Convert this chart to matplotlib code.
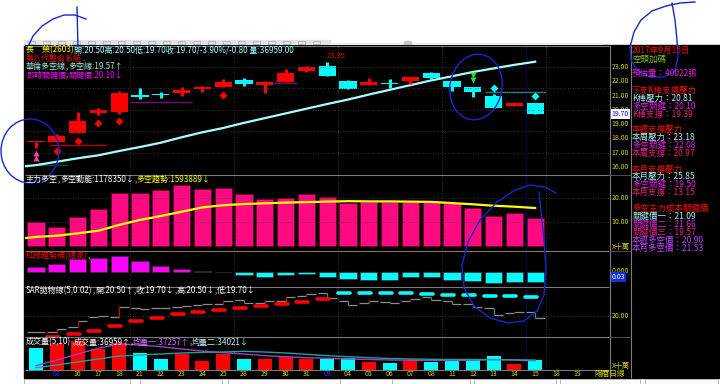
import numpy as np
import matplotlib
matplotlib.use('Agg')
import matplotlib.pyplot as plt
from matplotlib.patches import Rectangle, Ellipse

plt.rcParams['font.family'] = ['Noto Sans CJK TC', 'DejaVu Sans']

# ---------------- data ----------------
date_labels = ['', '08', '16', '17', '18', '21', '22', '23', '24', '25', '28', '29', '30',
               '31', '09', '04', '05', '06', '07', '08', '11', '12', '13', '14', '15', '18', '19']
month_idx = [1, 14]

opens  = [17.74, 17.75, 18.40, 19.76, 19.87, 21.06, 21.12, 21.16, 21.44, 21.62, 22.09, 21.72, 21.97,
          22.72, 23.07, 22.02, 21.76, 21.84, 22.00, 22.56, 22.02, 21.58, 20.99, 20.30, 20.50]
closes = [17.74, 18.19, 19.22, 19.99, 21.16, 20.92, 21.04, 21.37, 21.58, 21.97, 21.79, 21.97, 22.56,
          23.00, 22.39, 21.48, 21.97, 21.80, 22.30, 22.21, 21.62, 21.23, 20.15, 20.50, 19.70]
highs  = [17.76, 18.29, 19.87, 20.11, 21.32, 21.51, 21.27, 21.62, 21.67, 22.14, 22.21, 21.99, 22.86,
          23.09, 23.35, 22.09, 22.21, 22.16, 22.33, 22.67, 22.04, 21.60, 21.09, 20.56, 20.50]
lows   = [17.35, 17.72, 18.40, 19.64, 19.71, 20.76, 20.81, 20.99, 21.23, 21.62, 21.65, 21.20, 21.95,
          22.63, 22.39, 21.45, 21.76, 21.55, 21.83, 22.14, 21.32, 20.88, 20.10, 20.25, 19.70]

ma_x    = list(range(-1, 25))
ma_vals = [15.98, 16.13, 16.37, 16.61, 16.82, 17.12, 17.40, 17.70, 18.08, 18.43, 18.73, 19.09, 19.42,
           19.75, 20.08, 20.41, 20.72, 21.07, 21.40, 21.73, 22.06, 22.35, 22.65, 22.90, 23.15, 23.37]

red_dia_idx, red_dia_val = [1, 2, 3, 4, 9], [17.12, 17.84, 19.10, 19.22, 21.06]
cyan_dia_idx, cyan_dia_val = [22, 24], [21.55, 20.99]
buy_idx, buy_val = [0], [16.80]
sell_idx, sell_val = [21], [22.25]

level_start = [0.6, 4.55, 11.4, 21.6, -0.6]
level_end   = [3.4, 7.5, 12.55, 24.5, 1.55]
level_price = [17.54, 20.53, 21.88, 21.23, 16.14]
level_color = ['#b00000', '#800080', '#800080', '#208080', '#104848']

force = [10.25, 7.92, 12.33, 15.54, 22.33, 22.08, 23.46, 25.54, 23.75, 24.17, 21.79, 19.71, 20.0,
         21.92, 20.67, 18.17, 18.5, 18.5, 18.5, 18.5, 17.83, 15.75, 12.6, 13.7, 11.78]
force_trend = [3.0, 3.9, 4.4, 5.4, 6.5, 8.9, 11.0, 12.6, 14.4, 16.2, 17.1, 17.6, 17.9, 18.2, 18.4,
               18.6, 18.8, 18.7, 18.7, 18.6, 18.5, 18.0, 17.5, 16.9, 16.5, 15.94]

rg_trend = [5.6, 8.3, 13.0, 14.0, 16.3, 11.6, 6.6, 3.3, 1.0, 0.3, -3.0, -4.4, -3.0, -1.7, -4.4,
            -6.7, -7.2, -7.2, -5.0, -4.4, -7.2, -8.4, -11.0, -9.4, -9.4]

sar = [np.nan, 17.12, 17.49, 17.95, 18.63, 19.32, 19.73, 20.19, 20.47, 20.78, 21.10, 21.37, 21.60,
       21.92, 22.25, 23.15, 23.15, 23.15, 23.15, 22.93, 22.84, 22.84, 22.74, 22.74, 22.60]

vols = [80200, 96100, 107200, 77600, 98700, 61700, 39500, 58000, 34400, 60200, 39500, 41800, 46900,
        41800, 41800, 43200, 28500, 27000, 37000, 28500, 40700, 40700, 50600, 22200, 36959]
vol_ma5 = [15900, 37000, 59100, 80200, 96100, 92400, 86100, 77600, 70200, 63900, 59100, 52900, 49200,
           45500, 43200, 40700, 38800, 37000, 35900, 35100, 35100, 36200, 38800, 37700, 37257]
vol_ma10 = [8500, 18500, 29600, 40700, 51700, 55400, 59100, 62800, 65400, 66500, 69100, 66500, 62800,
            58000, 52900, 49200, 45500, 42500, 40700, 39500, 38800, 38800, 38100, 37000, 34021]

info_text = ['2017年9月15日', '空頭加碼', '預估量：40022張',
             '下支K棒支撐壓力', 'K棒壓力：20.81', '多空關鍵：20.10', 'K棒支撐：19.39',
             '本週支撐壓力', '本周壓力：23.18', '多空關鍵：22.08', '本周支撐：20.97',
             '本月支撐壓力', '本月壓力：25.85', '多空關鍵：19.50', '本月支撐：13.15',
             '多空主力成本關鍵價', '關鍵價一：21.09', '關鍵價二：21.66', '關鍵價三：19.57',
             '本週多空價：20.90', '本月多空價：21.53']

# ---------------- colours ----------------
RED, CYN, YEL = '#ff0000', '#00ffff', '#d4d400'
MAG, LCY, CRM, VIO, GRN = '#e020e0', '#a8f0f0', '#e8207a', '#c040ff', '#7fc31c'
info_col = [RED, GRN, MAG, RED, LCY, MAG, CRM, RED, LCY, MAG, CRM,
            RED, LCY, MAG, CRM, RED, LCY, MAG, CRM, VIO, VIO]
info_y = [50.2, 58.9, 73.7, 90, 98.3, 106, 114, 129, 137, 145.3, 153.3,
          169, 176.7, 184.7, 192.7, 208.3, 216, 224, 232, 240, 248]

W, H = 720, 384
fig = plt.figure(figsize=(W / 100, H / 100), dpi=100)


def px_axes(x0, y0, x1, y1, z=1):
    return fig.add_axes([x0 / W, 1 - y1 / H, (x1 - x0) / W, (y1 - y0) / H], zorder=z)


bg = px_axes(0, 0, W, H, 0)
bg.set_xlim(0, W); bg.set_ylim(H, 0); bg.axis('off')
bg.add_patch(Rectangle((0, 0), W, H, color='white'))
bg.add_patch(Rectangle((24, 45), W - 24, 333, color='black'))
bg.add_patch(Rectangle((24, 39.5), 306, 5.5, color='#e2e2e2'))
for k in range(20):
    bg.add_patch(Rectangle((28 + k * 15, 40.5), 7, 3.5, fc='none', ec='#a4a4b4', lw=0.5))
bg.add_patch(Rectangle((330, 42.5), 272, 2, color='#ececec'))
bg.add_patch(Rectangle((404, 40.5), 7, 4, color='#c8c8c8'))
for x0, x1 in [(24, 130), (140, 222), (228, 340), (392, 470), (474, 556), (560, 640), (645, 718)]:
    bg.add_patch(Rectangle((x0, 379), x1 - x0, 5, fc='#fafafa', ec='#b0b0b0', lw=0.6))

XL = (-0.53, 27.55)
x = np.arange(len(opens))
o, c, h, l = map(np.array, (opens, closes, highs, lows))


def panel(y0, y1, ylim):
    ax = px_axes(25, y0, 609, y1)
    ax.set_facecolor('black')
    ax.set_xlim(*XL); ax.set_ylim(*ylim)
    ax.set_xticks([]); ax.set_yticks([])
    for s in ax.spines.values():
        s.set_visible(False)
    for gx in [4.5, 9.5, 14.5, 19.5, 24.5]:
        ax.axvline(gx, color='#404040', lw=0.6, ls=(0, (1, 2)))
    ax.axvline(23.55, color='#00006a', lw=0.6)
    return ax


def rlabel(ax, v, s, color=YEL, **kw):
    ax.text(1 + 2.5 / 584, v, s, transform=ax.get_yaxis_transform(), color=color,
            fontsize=5, va='center', ha='left', **kw)


def hgrid(ax, vals):
    for v in vals:
        ax.axhline(v, color='#404040', lw=0.6, ls=(0, (1, 2)))


# ---- price panel ----
p1 = panel(45, 175, (15.44, 24.54))
hgrid(p1, [23, 21.5, 20, 18.5, 17])
ccol = np.where(c >= o, RED, CYN)
p1.hlines(level_price, level_start, level_end, colors=level_color, lw=1)
p1.plot(ma_x, ma_vals, color='#a8ffff', lw=1.6)
p1.vlines(x, l, h, colors=ccol, lw=2.2)
p1.bar(x, np.maximum(np.abs(c - o), 0.1), 0.82, bottom=np.minimum(o, c), color=ccol)
p1.plot(red_dia_idx, red_dia_val, 'D', color=RED, ms=4, mec='none')
p1.plot(cyan_dia_idx, cyan_dia_val, 'D', color=CYN, ms=4, mec='none')
for d in (-0.16, 0.16):
    p1.plot(buy_idx, np.array(buy_val) + d, '^', color='#ff3ea5', ms=4.5, mec='none')
    p1.plot(sell_idx, np.array(sell_val) + d, 'v', color='#30e030', ms=4.5, mec='none')
p1.annotate(f'{highs[14]:.2f}', (14, highs[14]), xytext=(0, 1.5), textcoords='offset points',
            ha='left', va='bottom', color='#d01010', fontsize=5.5)
for v in [23, 22, 21, 20, 19, 18, 17, 16]:
    rlabel(p1, v, f'{v:.2f}')
rlabel(p1, closes[-1], f'{closes[-1]:.2f}', color='#0000ff',
       bbox=dict(boxstyle='square,pad=0.15', fc='white', ec='none'))

# ---- 主力多空 ----
p2 = panel(175, 251, (-1.96, 29.7))
hgrid(p2, [20, 10])
p2.bar(x, force, 0.82, color='#ff0a80', edgecolor='#700030', lw=0.6)
p2.plot(ma_x, force_trend, color='#ffff00', lw=1.6)
rlabel(p2, 20, '20.00'); rlabel(p2, 10, '10.00'); rlabel(p2, -0.4, 'X十萬')

# ---- 紅綠趨勢標 ----
p3 = panel(251, 287, (-14.7, 21.3))
rg = np.array(rg_trend)
rcol = np.where(rg > 2, '#ff00ff', np.where(rg > 0, '#8b008b', CYN))
p3.bar(x, rg, 0.82, color=rcol, edgecolor='#303030', lw=0.5)
rlabel(p3, 1.0, '0.000')
rlabel(p3, -4.4, '0.03', color='white', bbox=dict(boxstyle='square,pad=0.15', fc='#1030e0', ec='none'))

# ---- SAR ----
p4 = panel(287, 337, (17.08, 23.93))
hgrid(p4, [20])
p4.hlines(o, x - 0.45, x, colors='#8c8c8c', lw=0.9)
p4.hlines(c, x, x + 0.45, colors='#8c8c8c', lw=0.9)
p4.vlines(x, o, c, colors=np.where(c > o, '#d00000', '#209090'), lw=0.9)
s = np.array(sar)
ok = ~np.isnan(s)
scol = np.where(s[ok] < c[ok], RED, CYN)
sl = p4.hlines(s[ok], x[ok] - 0.48, x[ok] + 0.1, colors=scol, lw=2.6)
sl.set_capstyle('round')
rlabel(p4, 20, '20.00')

# ---- volume ----
p5 = panel(337, 370, (0, 121968))
p5.bar(x, vols, 0.68, color=np.where(c > o, RED, CYN))
p5.plot(x, vol_ma5, color='#a040c0', lw=1)
p5.plot(x, vol_ma10, color='#20a0a0', lw=1)
rlabel(p5, 15900, 'X十萬')
for i, lab in enumerate(date_labels):
    p5.text(i, -0.12, lab, transform=p5.get_xaxis_transform(), ha='center', va='center',
            fontsize=5, color='#2030ff' if i in month_idx else YEL)

# ---------------- overlay: frames, titles, info panel ----------------
ov = px_axes(0, 0, W, H, 20)
ov.set_xlim(0, W); ov.set_ylim(H, 0); ov.axis('off')
ov.hlines([45.5, 175, 251, 287, 337, 370], 25, 609, color='#7a7a7a', lw=0.8)
ov.vlines([609.5, 631], 45, 378, color='#7a7a7a', lw=0.8)
ov.hlines([175, 251, 337], 609, 631, color='#5a5a5a', lw=0.6)
ov.text(610, 374, '陽曆日線', color=YEL, fontsize=5.5, ha='center', va='center')


def chain(xp, yp, parts, fs=5.8):
    t = ov.text(xp, yp, parts[0][0], color=parts[0][1], fontsize=fs, ha='left', va='center')
    for txt, col in parts[1:]:
        t = ov.annotate(txt, xy=(1, 0.5), xycoords=t, color=col, fontsize=fs, ha='left', va='center')


Y = '#ffff00'
chain(26, 50, [('長　榮(2603)', Y), ('開:20.50高:20.50低:19.70收:19.70/-3.90%/-0.80 量:36959.00', '#a0ffff')])
chain(26, 58.5, [('第八代整合系統', RED), ('.', Y)])
chain(26, 66.8, [('華倫多空線', '#a0f0e0'), (',', Y), ('多空線:19.57↑', '#a0f0e0')])
chain(26, 75, [('即時關鍵價', '#ff00ff'), (',', Y), ('關鍵價:20.10↓', '#ff00ff')])
chain(26, 179.5, [('主力多空', 'white'), (',', Y), ('多空動能:1178350↓', 'white'), (',', Y),
                  ('多空趨勢:1593889↓', Y)])
chain(26, 256, [('紅綠趨勢標(短波)', RED), (',', Y)])
chain(26, 290.5, [('SAR拋物線(5,0.02)', 'white'), (',', Y), ('開:20.50↑', 'white'), (',', Y),
                  ('收:19.70↓', 'white'), (',', Y), ('高:20.50↓', 'white'), (',', Y), ('低:19.70↓', 'white')])
chain(26, 342, [('成交量(5,10)', 'white'), (',', Y), ('成交量:36959↑', 'white'), (',', Y),
                ('均量一:37257↑', '#d070ff'), (',', Y), ('均量二:34021↓', '#c0f0ff')])

for txt, yy, col in zip(info_text, info_y, info_col):
    ov.text(632, yy, txt, color=col, fontsize=6.1, ha='left', va='center')

# hand-drawn blue marks on the screenshot
BL = '#1428d0'
ov.plot([27, 33, 42, 53, 64, 75, 86], [49, 36, 26, 19, 15, 15, 19], color=BL, lw=1)
ov.plot([77, 78], [7, 49], color=BL, lw=1)
ov.add_patch(Ellipse((30, 151), 58, 64, fc='none', ec=BL, lw=1))
ov.plot([695, 680, 666, 652, 641, 634, 630, 631, 637, 650, 664, 675, 678, 677, 675, 672],
        [2, 3, 6, 11, 20, 32, 47, 60, 70, 77, 77, 71, 58, 40, 20, 3], color=BL, lw=1)
ov.add_patch(Ellipse((476, 87), 52, 66, angle=10, fc='none', ec=BL, lw=1))
ov.plot([556, 545, 530, 515, 497, 480, 468, 462, 464, 474, 490, 508, 524, 537, 544, 546, 544, 541, 539],
        [193, 187, 185, 190, 202, 220, 242, 265, 288, 306, 318, 323, 321, 311, 295, 270, 240, 212, 192],
        color=BL, lw=1)

fig.savefig('out.png', dpi=100, facecolor='white')
